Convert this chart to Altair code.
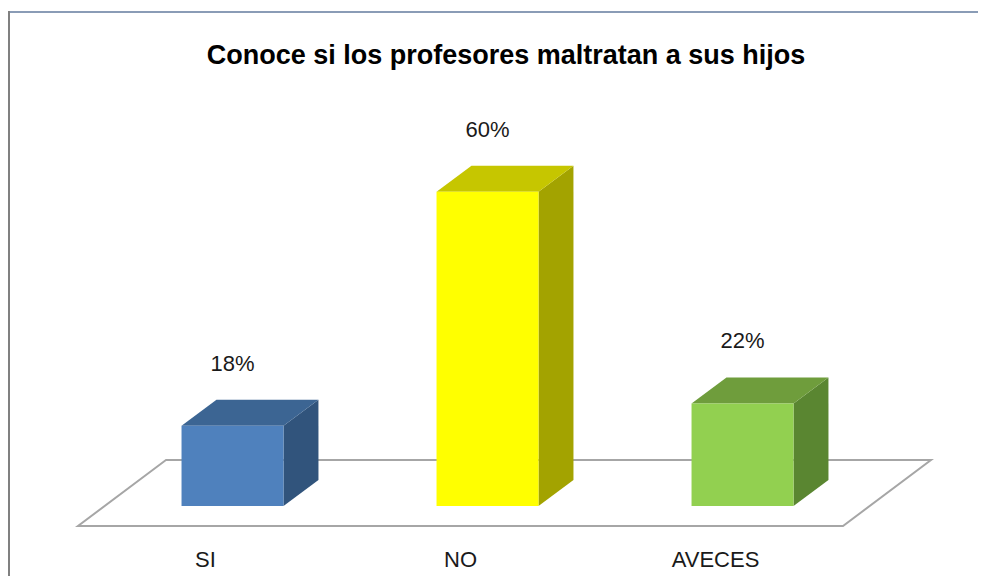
import altair as alt
import pandas as pd

# ---- data ----
categories = ["SI", "NO", "AVECES"]
values = [18, 60, 22]
value_labels = ["18%", "60%", "22%"]
front_colors = ["#4F81BD", "#FFFF00", "#92D050"]
top_colors = ["#3C6593", "#C6C600", "#6F9D3C"]
side_colors = ["#31547C", "#A3A300", "#5A8631"]
title_text = "Conoce si los profesores maltratan a sus hijos"

# ---- layout / 3D geometry (in scale units) ----
W, H = 970, 568
X_DOMAIN = [-0.7745, 3.0294]
Y_DOMAIN = [-8.977, 93.0]
BAR_SHIFT = 0.106      # bars set back from floor front edge
BAR_HALF = 0.2
BAR_BASE = 3.59
DEPTH_X = 0.137
DEPTH_Y = 4.67
FLOOR_L, FLOOR_R = -0.5, 2.5
FLOOR_DX, FLOOR_DY = 0.345, 11.85

xs = alt.Scale(domain=X_DOMAIN, nice=False, zero=False)
ys = alt.Scale(domain=Y_DOMAIN, nice=False, zero=False)

front_rows, top_rows, side_rows, lab_rows, cat_rows = [], [], [], [], []
for i, (c, v) in enumerate(zip(categories, values)):
    L = i + BAR_SHIFT - BAR_HALF
    R = i + BAR_SHIFT + BAR_HALF
    front_rows.append(dict(cat=c, x=L, x2=R, y=BAR_BASE, y2=v, col=front_colors[i]))
    top_rows.append(dict(cat=c, y=v, x=L, x2=R, col=top_colors[i]))
    top_rows.append(dict(cat=c, y=v + DEPTH_Y, x=L + DEPTH_X, x2=R + DEPTH_X, col=top_colors[i]))
    side_rows.append(dict(cat=c, x=R, y=BAR_BASE, y2=v, col=side_colors[i]))
    side_rows.append(dict(cat=c, x=R + DEPTH_X, y=BAR_BASE + DEPTH_Y, y2=v + DEPTH_Y, col=side_colors[i]))
    lab_rows.append(dict(cat=c, x=i + BAR_SHIFT, y=v, t=value_labels[i]))
    cat_rows.append(dict(x=i, t=c))

floor_df = pd.DataFrame([
    dict(y=0, x=FLOOR_L, x2=FLOOR_R),
    dict(y=FLOOR_DY, x=FLOOR_L + FLOOR_DX, x2=FLOOR_R + FLOOR_DX),
])

floor = alt.Chart(floor_df).mark_area(
    orient="horizontal", fill="white", stroke="#A6A6A6", strokeWidth=2, strokeJoin="miter"
).encode(
    y=alt.Y("y:Q", scale=ys, axis=None),
    x=alt.X("x:Q", scale=xs, axis=None),
    x2="x2:Q",
)

tops = alt.Chart(pd.DataFrame(top_rows)).mark_area(orient="horizontal").encode(
    y=alt.Y("y:Q", scale=ys, axis=None),
    x=alt.X("x:Q", scale=xs, axis=None),
    x2="x2:Q",
    color=alt.Color("col:N", scale=None),
    detail="cat:N",
)

sides = alt.Chart(pd.DataFrame(side_rows)).mark_area(orient="vertical").encode(
    x=alt.X("x:Q", scale=xs, axis=None),
    y=alt.Y("y:Q", scale=ys, axis=None),
    y2="y2:Q",
    color=alt.Color("col:N", scale=None),
    detail="cat:N",
)

fronts = alt.Chart(pd.DataFrame(front_rows)).mark_rect().encode(
    x=alt.X("x:Q", scale=xs, axis=None),
    x2="x2:Q",
    y=alt.Y("y:Q", scale=ys, axis=None),
    y2="y2:Q",
    color=alt.Color("col:N", scale=None),
)

pct = alt.Chart(pd.DataFrame(lab_rows)).mark_text(
    font="Liberation Sans", fontSize=22, color="#1a1a1a", dy=-62, baseline="middle"
).encode(
    x=alt.X("x:Q", scale=xs, axis=None),
    y=alt.Y("y:Q", scale=ys, axis=None),
    text="t:N",
)

cats = alt.Chart(pd.DataFrame(cat_rows)).mark_text(
    font="Liberation Sans", fontSize=22, color="#1a1a1a", baseline="middle"
).encode(
    x=alt.X("x:Q", scale=xs, axis=None),
    y=alt.value(551.5),
    text="t:N",
)

title = alt.Chart(pd.DataFrame({"t": [title_text]})).mark_text(
    font="Liberation Sans", fontSize=27, fontWeight="bold", color="#000000", baseline="middle"
).encode(
    x=alt.value(498),
    y=alt.value(47.5),
    text="t:N",
)

border_top = alt.Chart(pd.DataFrame({"a": [0]})).mark_rule(color="#8A9CB6", strokeWidth=2).encode(
    x=alt.value(0), x2=alt.value(W), y=alt.value(4)
)
border_left = alt.Chart(pd.DataFrame({"a": [0]})).mark_rule(color="#808080", strokeWidth=2).encode(
    x=alt.value(1), y=alt.value(3), y2=alt.value(H)
)

chart = alt.layer(
    border_top, border_left, floor, sides, tops, fronts, pct, cats, title
).properties(
    width=W, height=H, padding=0, autosize=alt.AutoSizeParams(type="none"),
    background="white",
).configure_view(stroke=None)

chart.save("out.html", embed_options={"renderer": "svg", "actions": False})
